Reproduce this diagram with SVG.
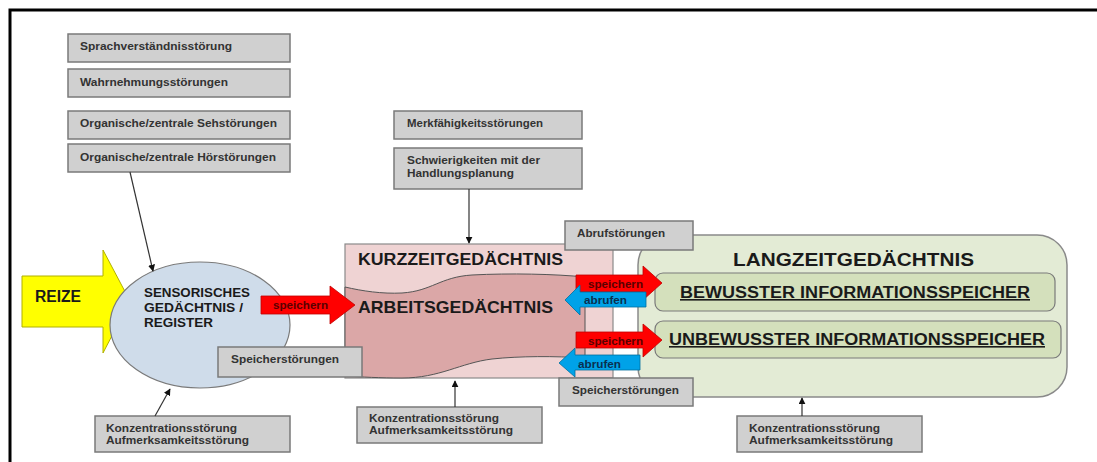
<svg xmlns="http://www.w3.org/2000/svg" width="1097" height="462" viewBox="0 0 1097 462">
  <style>
    .gbox { fill: #d0d0d0; stroke: #7a7a7a; stroke-width: 1.5; }
    .gtxt { font-family: "Liberation Sans", Arial, sans-serif; font-weight: bold; font-size: 11px; fill: #333333; }
    .big  { font-family: "Liberation Sans", Arial, sans-serif; font-weight: bold; fill: #1a1a1a; }
    .conn { stroke: #333333; stroke-width: 1.2; fill: none; marker-end: url(#head); }
    .red  { fill: #ff0000; stroke: #c00000; stroke-width: 0.8; }
    .blue { fill: #00a2e8; stroke: #0070a0; stroke-width: 0.8; }
    .rtxt { font-family: "Liberation Sans", Arial, sans-serif; font-weight: bold; font-size: 11px; fill: #5a0000; }
    .btxt { font-family: "Liberation Sans", Arial, sans-serif; font-weight: bold; font-size: 11px; fill: #0a3050; }
  </style>
  <defs>
    <marker id="head" viewBox="0 0 10 10" refX="9" refY="5" markerWidth="7" markerHeight="7" orient="auto-start-reverse" markerUnits="userSpaceOnUse">
      <path d="M0,0 L10,5 L0,10 Z" fill="#111111"/>
    </marker>
  </defs>

  <rect width="1097" height="462" fill="#ffffff"/>
  <!-- page frame -->
  <path d="M10,462 L10,10 L1097,10" fill="none" stroke="#000000" stroke-width="3"/>

  <!-- input arrow -->
  <g id="reize">
    <path d="M22,276 L103,276 L103,250 L130,301 L103,353 L103,327 L22,327 Z" fill="#ffff00" stroke="#b0b000" stroke-width="1"/>
    <text x="35" y="302" class="big" font-size="16" textLength="46" lengthAdjust="spacingAndGlyphs">REIZE</text>
  </g>

  <!-- sensory register -->
  <g id="sensorisch">
    <ellipse cx="200" cy="325" rx="90" ry="63" fill="#cfdcea" stroke="#7a7a7a" stroke-width="1.2"/>
    <text class="big" font-size="13" fill="#2a2a2a">
      <tspan x="144" y="297" textLength="106" lengthAdjust="spacingAndGlyphs">SENSORISCHES</tspan>
      <tspan x="144" y="312" textLength="99" lengthAdjust="spacingAndGlyphs">GEDÄCHTNIS /</tspan>
      <tspan x="144" y="327" textLength="69" lengthAdjust="spacingAndGlyphs">REGISTER</tspan>
    </text>
  </g>

  <!-- short-term memory -->
  <g id="kurzzeit">
    <rect x="345" y="244" width="268" height="134" fill="#efd3d3" stroke="#8a8a8a" stroke-width="1.2"/>
    <text x="358" y="265" class="big" font-size="16" textLength="205" lengthAdjust="spacingAndGlyphs">KURZZEITGEDÄCHTNIS</text>
  </g>
  <g id="arbeit">
    <path d="M345,287 C362,291 382,294 402,293 C432,291 440,277 472,275 C510,273 555,274 585,277 L585,358 C555,356 520,356 492,359 C460,363 440,378 402,378 C380,378 362,377 345,376 Z" fill="#dba7a7" stroke="#555555" stroke-width="1"/>
    <text x="358" y="313" class="big" font-size="17" textLength="195" lengthAdjust="spacingAndGlyphs">ARBEITSGEDÄCHTNIS</text>
  </g>

  <!-- long-term memory -->
  <g id="langzeit">
    <rect x="638" y="235" width="429" height="162" rx="30" ry="30" fill="#e3ebd5" stroke="#8a8a8a" stroke-width="1.5"/>
    <text x="733" y="266" class="big" font-size="18" textLength="241" lengthAdjust="spacingAndGlyphs">LANGZEITGEDÄCHTNIS</text>
  </g>
  <g id="bewusst">
    <rect x="655" y="273" width="400" height="38" rx="8" ry="8" fill="#d4e0bc" stroke="#7a7a7a" stroke-width="1.2"/>
    <text x="680" y="298" class="big" font-size="16" text-decoration="underline" textLength="350" lengthAdjust="spacingAndGlyphs">BEWUSSTER INFORMATIONSSPEICHER</text>
  </g>
  <g id="unbewusst">
    <rect x="655" y="321" width="406" height="37" rx="8" ry="8" fill="#d4e0bc" stroke="#7a7a7a" stroke-width="1.2"/>
    <text x="669" y="345" class="big" font-size="16" text-decoration="underline" textLength="376" lengthAdjust="spacingAndGlyphs">UNBEWUSSTER INFORMATIONSSPEICHER</text>
  </g>

  <!-- disorder labels -->
  <g id="sprach"><rect class="gbox" x="68" y="34" width="222" height="28"/><text class="gtxt" x="80" y="50" textLength="152" lengthAdjust="spacingAndGlyphs">Sprachverständnisstörung</text></g>
  <g id="wahrnehmung"><rect class="gbox" x="68" y="69" width="222" height="28"/><text class="gtxt" x="80" y="86" textLength="148" lengthAdjust="spacingAndGlyphs">Wahrnehmungsstörungen</text></g>
  <g id="sehen"><rect class="gbox" x="68" y="111" width="222" height="28"/><text class="gtxt" x="80" y="127" textLength="197" lengthAdjust="spacingAndGlyphs">Organische/zentrale Sehstörungen</text></g>
  <g id="hoeren"><rect class="gbox" x="68" y="144" width="222" height="28"/><text class="gtxt" x="80" y="161" textLength="196" lengthAdjust="spacingAndGlyphs">Organische/zentrale Hörstörungen</text></g>
  <g id="merk"><rect class="gbox" x="394" y="111" width="188" height="28"/><text class="gtxt" x="407" y="127" textLength="136" lengthAdjust="spacingAndGlyphs">Merkfähigkeitsstörungen</text></g>
  <g id="handlung"><rect class="gbox" x="394" y="148" width="188" height="41"/><text class="gtxt"><tspan x="407" y="164" textLength="133" lengthAdjust="spacingAndGlyphs">Schwierigkeiten mit der</tspan><tspan x="407" y="177" textLength="107" lengthAdjust="spacingAndGlyphs">Handlungsplanung</tspan></text></g>
  <g id="abruf"><rect class="gbox" x="565" y="221" width="128" height="29"/><text class="gtxt" x="577" y="237" textLength="88" lengthAdjust="spacingAndGlyphs">Abrufstörungen</text></g>
  <g id="speicher1"><rect class="gbox" x="218" y="347" width="144" height="30"/><text class="gtxt" x="231" y="363" textLength="108" lengthAdjust="spacingAndGlyphs">Speicherstörungen</text></g>
  <g id="speicher2"><rect class="gbox" x="559" y="378" width="134" height="28"/><text class="gtxt" x="572" y="394" textLength="107" lengthAdjust="spacingAndGlyphs">Speicherstörungen</text></g>
  <g id="konz1"><rect class="gbox" x="95" y="416" width="195" height="36"/><text class="gtxt"><tspan x="106" y="432" textLength="131" lengthAdjust="spacingAndGlyphs">Konzentrationsstörung</tspan><tspan x="106" y="444" textLength="143" lengthAdjust="spacingAndGlyphs">Aufmerksamkeitsstörung</tspan></text></g>
  <g id="konz2"><rect class="gbox" x="357" y="407" width="185" height="36"/><text class="gtxt"><tspan x="369" y="422" textLength="130" lengthAdjust="spacingAndGlyphs">Konzentrationsstörung</tspan><tspan x="369" y="434" textLength="144" lengthAdjust="spacingAndGlyphs">Aufmerksamkeitsstörung</tspan></text></g>
  <g id="konz3"><rect class="gbox" x="737" y="416" width="185" height="36"/><text class="gtxt"><tspan x="749" y="432" textLength="131" lengthAdjust="spacingAndGlyphs">Konzentrationsstörung</tspan><tspan x="749" y="444" textLength="144" lengthAdjust="spacingAndGlyphs">Aufmerksamkeitsstörung</tspan></text></g>

  <!-- transfer arrows -->
  <g id="flows">
    <path class="red" d="M261,296 L330,296 L330,286 L355,305 L330,324 L330,314 L261,314 Z"/>
    <text class="rtxt" x="273" y="309" textLength="55" lengthAdjust="spacingAndGlyphs">speichern</text>

    <path class="red" d="M576,275 L643,275 L643,266 L662,283 L643,300 L643,292 L576,292 Z"/>
    <text class="rtxt" x="588" y="288" textLength="55" lengthAdjust="spacingAndGlyphs">speichern</text>
    <path class="blue" d="M646,292 L580,292 L580,285 L565,300 L580,315 L580,307 L646,307 Z"/>
    <text class="btxt" x="584" y="304" textLength="43" lengthAdjust="spacingAndGlyphs">abrufen</text>

    <path class="red" d="M576,332 L643,332 L643,324 L662,340 L643,357 L643,348 L576,348 Z"/>
    <text class="rtxt" x="588" y="345" textLength="55" lengthAdjust="spacingAndGlyphs">speichern</text>
    <path class="blue" d="M640,355 L575,355 L575,348 L559,363 L575,377 L575,370 L640,370 Z"/>
    <text class="btxt" x="578" y="368" textLength="43" lengthAdjust="spacingAndGlyphs">abrufen</text>
  </g>

  <!-- connectors -->
  <g id="connectors">
    <line class="conn" x1="130" y1="172" x2="153" y2="271"/>
    <line class="conn" x1="469" y1="189" x2="469" y2="243"/>
    <line class="conn" x1="155" y1="416" x2="170" y2="389"/>
    <line class="conn" x1="455" y1="407" x2="455" y2="381"/>
    <line class="conn" x1="802" y1="416" x2="802" y2="398"/>
  </g>
</svg>
